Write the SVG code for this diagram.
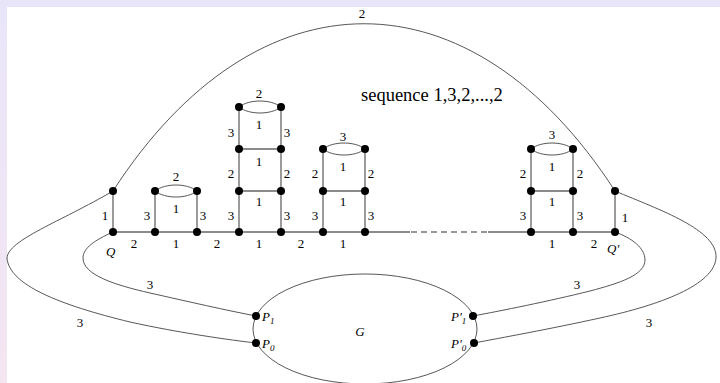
<svg xmlns="http://www.w3.org/2000/svg" width="720" height="383" viewBox="0 0 720 383">
<defs>
<linearGradient id="lg" x1="0" y1="0" x2="0" y2="1">
<stop offset="0" stop-color="#e9e5f9"/>
<stop offset="1" stop-color="#f4e6f1"/>
</linearGradient>
<style>
.e{stroke:#666;stroke-width:1.3;fill:none}
.c{stroke:#444;stroke-width:0.9;fill:none}
.d{stroke:#777;stroke-width:1.3;fill:none;stroke-dasharray:6 4}
.n{fill:#000}
.t{font-family:"Liberation Serif","Times New Roman",serif;font-size:13px;fill:#000;text-anchor:middle}
.i{font-family:"Liberation Serif","Times New Roman",serif;font-size:13px;font-style:italic;fill:#000}
.sb{font-family:"Liberation Serif","Times New Roman",serif;font-size:9px;font-style:italic;fill:#000}
.s{font-family:"Liberation Serif","Times New Roman",serif;font-size:18.5px;fill:#000}
</style>
</defs>
<rect x="0" y="0" width="720" height="383" fill="#fff"/>
<rect x="0" y="0" width="720" height="7" fill="#e9e5f9"/>
<rect x="0" y="0" width="7" height="383" fill="url(#lg)"/>

<g id="connectors">
<path class="c" d="M113,191 C257,-32 471,-32 615,191"/>
<path class="c" d="M113,191 C60,222 8,240 7,258 C9,285 60,305 130,322 C180,333 230,340 256,343"/>
<path class="c" d="M113,232 C95,240 83,248 83,258 C83,275 115,285 150,293 C190,302 225,310 256,316"/>
<path class="c" d="M615,232 C632,238 645,248 645,260 C645,275 620,283 590,291 C550,301 500,311 473,316"/>
<path class="c" d="M615,191 C660,210 718,230 716,258 C714,285 660,305 600,318 C550,329 500,338 474,343"/>
<path class="e" d="M113,232 H410"/>
<path class="d" d="M411,232 H488"/>
<path class="e" d="M488,232 H615"/>
<path class="e" d="M113,191 V232 M615,191 V232"/>
<path class="e" d="M155,191 V232 M197,191 V232"/>
<path class="c" d="M155,191 C165,183 187,183 197,191 M155,191 C165,199 187,199 197,191"/>
<path class="e" d="M239,107 V232 M281,107 V232 M239,149 H281 M239,191 H281"/>
<path class="c" d="M239,107 C249,99 271,99 281,107 M239,107 C249,115 271,115 281,107"/>
<path class="e" d="M323,149 V232 M365,149 V232 M323,191 H365"/>
<path class="c" d="M323,149 C333,141 355,141 365,149 M323,149 C333,157 355,157 365,149"/>
<path class="e" d="M531,149 V232 M573,149 V232 M531,191 H573"/>
<path class="c" d="M531,149 C541,141 563,141 573,149 M531,149 C541,157 563,157 573,149"/>
</g>

<g id="G">
<ellipse class="c" cx="365" cy="329" rx="112" ry="55"/>
<text class="i" x="360" y="336" text-anchor="middle">G</text>
</g>

<g id="nodes">
<g id="Q"><circle class="n" cx="113" cy="232" r="4"/><text class="i" x="106" y="256">Q</text></g>
<g id="Qtop"><circle class="n" cx="113" cy="191" r="4"/></g>
<g id="Qp"><circle class="n" cx="615" cy="232" r="4"/><text class="i" x="607" y="253">Q'</text></g>
<g id="Qptop"><circle class="n" cx="615" cy="191" r="4"/></g>
<g id="t1"><circle class="n" cx="155" cy="191" r="4"/><circle class="n" cx="197" cy="191" r="4"/><circle class="n" cx="155" cy="232" r="4"/><circle class="n" cx="197" cy="232" r="4"/></g>
<g id="t2"><circle class="n" cx="239" cy="107" r="4"/><circle class="n" cx="281" cy="107" r="4"/><circle class="n" cx="239" cy="149" r="4"/><circle class="n" cx="281" cy="149" r="4"/><circle class="n" cx="239" cy="191" r="4"/><circle class="n" cx="281" cy="191" r="4"/><circle class="n" cx="239" cy="232" r="4"/><circle class="n" cx="281" cy="232" r="4"/></g>
<g id="t3"><circle class="n" cx="323" cy="149" r="4"/><circle class="n" cx="365" cy="149" r="4"/><circle class="n" cx="323" cy="191" r="4"/><circle class="n" cx="365" cy="191" r="4"/><circle class="n" cx="323" cy="232" r="4"/><circle class="n" cx="365" cy="232" r="4"/></g>
<g id="tR"><circle class="n" cx="531" cy="149" r="4"/><circle class="n" cx="573" cy="149" r="4"/><circle class="n" cx="531" cy="191" r="4"/><circle class="n" cx="573" cy="191" r="4"/><circle class="n" cx="531" cy="232" r="4"/><circle class="n" cx="573" cy="232" r="4"/></g>
<g id="P1"><circle class="n" cx="256" cy="316" r="4"/><text class="i" x="262" y="321">P<tspan font-size="9" dy="3">1</tspan></text></g>
<g id="P0"><circle class="n" cx="256" cy="343" r="4"/><text class="i" x="262" y="348">P<tspan font-size="9" dy="3">0</tspan></text></g>
<g id="P1p"><circle class="n" cx="473" cy="316" r="4"/><text class="i" x="451" y="321">P'<tspan font-size="9" dy="3">1</tspan></text></g>
<g id="P0p"><circle class="n" cx="474" cy="343" r="4"/><text class="i" x="451" y="348">P'<tspan font-size="9" dy="3">0</tspan></text></g>
</g>

<g id="labels">
<text class="t" x="362" y="18">2</text>
<text class="s" x="361" y="101">sequence 1,3,2,...,2</text>
<text class="t" x="105" y="220">1</text>
<text class="t" x="625" y="222">1</text>
<text class="t" x="134" y="248">2</text>
<text class="t" x="176" y="248">1</text>
<text class="t" x="217" y="248">2</text>
<text class="t" x="259" y="248">1</text>
<text class="t" x="301" y="248">2</text>
<text class="t" x="343" y="248">1</text>
<text class="t" x="552" y="248">1</text>
<text class="t" x="594" y="248">2</text>
<text class="t" x="176" y="181">2</text>
<text class="t" x="176" y="213">1</text>
<text class="t" x="147" y="220">3</text>
<text class="t" x="203" y="220">3</text>
<text class="t" x="259" y="98">2</text>
<text class="t" x="259" y="129">1</text>
<text class="t" x="231" y="137">3</text>
<text class="t" x="287" y="137">3</text>
<text class="t" x="259" y="166">1</text>
<text class="t" x="231" y="178">2</text>
<text class="t" x="287" y="178">2</text>
<text class="t" x="259" y="206">1</text>
<text class="t" x="231" y="220">3</text>
<text class="t" x="287" y="220">3</text>
<text class="t" x="343" y="141">3</text>
<text class="t" x="343" y="171">1</text>
<text class="t" x="315" y="178">2</text>
<text class="t" x="371" y="178">2</text>
<text class="t" x="343" y="206">1</text>
<text class="t" x="315" y="220">3</text>
<text class="t" x="371" y="220">3</text>
<text class="t" x="552" y="139">3</text>
<text class="t" x="552" y="171">1</text>
<text class="t" x="523" y="178">2</text>
<text class="t" x="580" y="178">2</text>
<text class="t" x="552" y="206">1</text>
<text class="t" x="523" y="220">3</text>
<text class="t" x="580" y="220">3</text>
<text class="t" x="150" y="289">3</text>
<text class="t" x="80" y="327">3</text>
<text class="t" x="577" y="289">3</text>
<text class="t" x="649" y="327">3</text>
</g>
</svg>
